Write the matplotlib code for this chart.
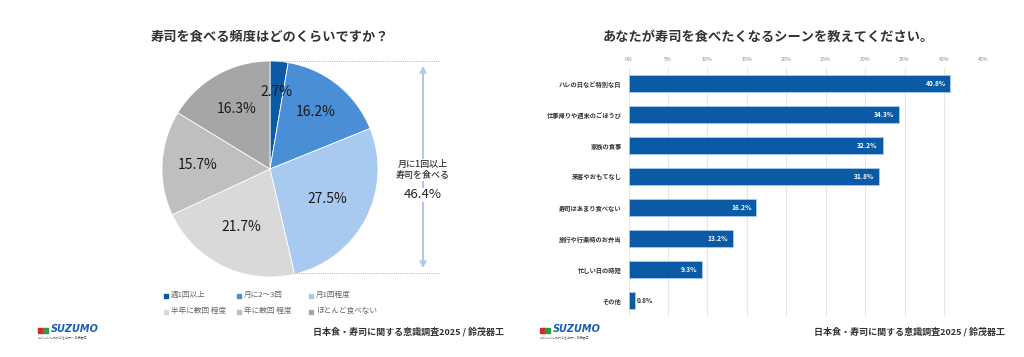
import matplotlib
matplotlib.use("Agg")
import matplotlib.pyplot as plt
from matplotlib.patches import Rectangle
import numpy as np

plt.rcParams['font.family'] = ['Noto Sans CJK JP', 'DejaVu Sans']

# pie data
pie_labels = ["週1回以上", "月に2～3回", "月1回程度", "半年に数回 程度", "年に数回 程度", "ほとんど食べない"]
pie_values = [2.7, 16.2, 27.5, 21.7, 15.7, 16.3]
pie_colors = ["#0b5aa6", "#4a8fd6", "#a8caf0", "#d9d9d9", "#bfbfbf", "#a6a6a6"]

# bar data
scenes = ["ハレの日など特別な日", "仕事帰りや週末のごほうび", "家族の食事", "来客やおもてなし",
          "寿司はあまり食べない", "旅行や行楽時のお弁当", "忙しい日の時短", "その他"]
scene_values = [40.8, 34.3, 32.2, 31.8, 16.2, 13.2, 9.3, 0.8]
bar_color = "#0b5aa6"

W, H = 1024, 357
fig = plt.figure(figsize=(W / 100, H / 100), dpi=100)


def box(x0, y0, x1, y1):
    # pixel box (top-left origin) -> figure fraction rect
    return [x0 / W, 1 - y1 / H, (x1 - x0) / W, (y1 - y0) / H]


# ---- left: pie ----
fig.text(270 / W, 1 - 37 / H, "寿司を食べる頻度はどのくらいですか？", ha="center", va="center",
         fontsize=9.5, fontweight="bold", color="#333333")

ax1 = fig.add_axes(box(162, 61, 378, 277))
wedges, _ = ax1.pie(pie_values, colors=pie_colors, startangle=90, counterclock=False,
                    wedgeprops=dict(edgecolor="white", linewidth=0.6))
ax1.set_aspect("equal")
label_r = [0.72, 0.68, 0.6, 0.6, 0.67, 0.63]
cum = 0
for v, r in zip(pie_values, label_r):
    mid = 90 - (cum + v / 2) * 3.6
    cum += v
    ax1.text(r * np.cos(np.radians(mid)), r * np.sin(np.radians(mid)), f"{v}%",
             ha="center", va="center", fontsize=10, color="#1a1a1a")
ax1.set_xlim(-1, 1)
ax1.set_ylim(-1, 1)

# dotted guide lines and arrow
fig.add_artist(plt.Line2D([270 / W, 440 / W], [1 - 61 / H, 1 - 61 / H], transform=fig.transFigure,
                          color="#999999", lw=0.6, ls=":"))
fig.add_artist(plt.Line2D([294 / W, 440 / W], [1 - 273 / H, 1 - 273 / H], transform=fig.transFigure,
                          color="#999999", lw=0.6, ls=":"))
fig.add_artist(matplotlib.patches.FancyArrowPatch((423 / W, 1 - 63 / H), (423 / W, 1 - 271 / H),
                                                  transform=fig.transFigure, arrowstyle="<->",
                                                  mutation_scale=9, color="#a8caf0", lw=1.5))
fig.text(423 / W, 1 - 170 / H, "月に1回以上\n寿司を食べる", ha="center", va="center", fontsize=6.5,
         fontweight="medium", color="#333333", linespacing=1.4, bbox=dict(fc="white", ec="none", pad=0.5))
fig.text(423 / W, 1 - 195 / H, "46.4%", ha="center", va="center", fontsize=9.5, color="#222222",
         bbox=dict(fc="white", ec="none", pad=0.5))

# legend
leg_x = [164, 237, 309]
leg_y = [295, 311]
for i, (lab, col) in enumerate(zip(pie_labels, pie_colors)):
    x = leg_x[i % 3]
    y = leg_y[i // 3]
    fig.add_artist(Rectangle((x / W, 1 - (y + 2.5) / H), 4 / W, 4 / H, transform=fig.transFigure,
                             color=col))
    fig.text((x + 7) / W, 1 - y / H, lab, ha="left", va="center", fontsize=5.5, color="#666666")


# ---- footer ----
def footer(x_logo, x_text):
    fig.add_artist(Rectangle(((x_logo) / W, 1 - 333 / H), 5 / W, 5 / H, transform=fig.transFigure,
                             color="#d7262b"))
    fig.add_artist(Rectangle(((x_logo + 5) / W, 1 - 333 / H), 5 / W, 5 / H, transform=fig.transFigure,
                             color="#2e9a3e"))
    fig.text((x_logo + 13) / W, 1 - 329 / H, "SUZUMO", ha="left", va="center", fontsize=7,
             fontweight="bold", style="italic", color="#1a5fb4", family="DejaVu Sans")
    fig.text((x_logo) / W, 1 - 337 / H, "おいしいしあわせを世界へ 鈴茂器工", ha="left", va="center",
             fontsize=2.2, color="#555555")
    fig.text(x_text / W, 1 - 332 / H, "日本食・寿司に関する意識調査2025 / 鈴茂器工", ha="right", va="center",
             fontsize=6.5, fontweight="bold", color="#333333")


footer(38, 504)
footer(540, 1005)

# ---- right: bars ----
fig.text(768 / W, 1 - 37 / H, "あなたが寿司を食べたくなるシーンを教えてください。", ha="center", va="center",
         fontsize=9.5, fontweight="bold", color="#333333")

ax2 = fig.add_axes(box(628.5, 68, 983.5, 316))
y = np.arange(len(scenes))
bars = ax2.barh(y, scene_values, height=0.56, color=bar_color, edgecolor="#a8caf0", linewidth=0.6,
                zorder=3)
ax2.set_xlim(0, 45)
ax2.set_ylim(len(scenes) - 0.5, -0.5)
ax2.set_xticks(np.arange(0, 46, 5))
ax2.set_xticklabels([f"{t}%" for t in range(0, 46, 5)])
ax2.xaxis.tick_top()
ax2.tick_params(axis="x", length=0, labelsize=3.8, labelcolor="#888888", pad=4)
ax2.set_yticks(y)
ax2.set_yticklabels(scenes, fontweight="bold")
ax2.tick_params(axis="y", length=0, labelsize=4.5, labelcolor="#333333", pad=5)
ax2.grid(axis="x", color="#e6e6e6", lw=0.8, zorder=0)
for s in ax2.spines.values():
    s.set_visible(False)
for yi, v in zip(y, scene_values):
    if v > 5:
        ax2.text(v - 0.6, yi, f"{v}%", ha="right", va="center", fontsize=4.8, fontweight="bold",
                 color="white", zorder=4)
    else:
        ax2.text(v + 0.3, yi, f"{v}%", ha="left", va="center", fontsize=4.8, fontweight="bold",
                 color="#333333", zorder=4)

fig.savefig("out.png", dpi=100, facecolor="white")
